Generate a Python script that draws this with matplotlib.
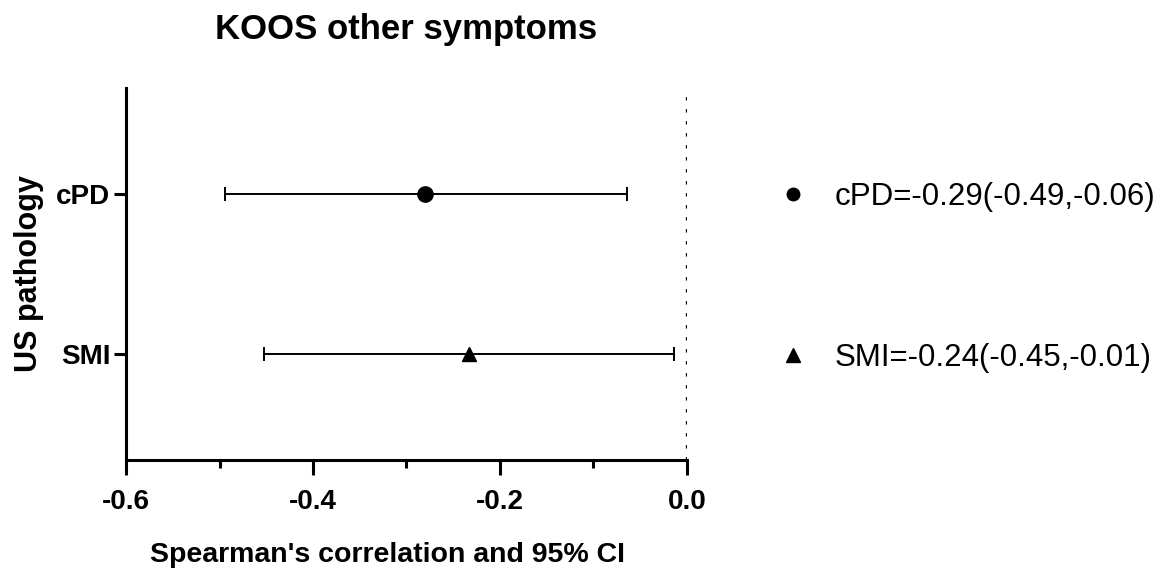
import matplotlib.pyplot as plt
from matplotlib.ticker import MultipleLocator

plt.rcParams['font.family'] = ['Liberation Sans', 'DejaVu Sans']

categories = ["cPD", "SMI"]
rho = [-0.28, -0.233]
ciLow = [-0.494, -0.453]
ciHigh = [-0.064, -0.014]
markers = ["o", "^"]
labels = ["cPD=-0.29(-0.49,-0.06)", "SMI=-0.24(-0.45,-0.01)"]

fig = plt.figure(figsize=(11.68, 5.76), dpi=100)
ax = fig.add_axes([0.108, 0.2014, 0.48, 0.6458])

ypos = [2, 1]
handles = []
for i in range(len(categories)):
    ax.errorbar(rho[i], ypos[i],
                xerr=[[rho[i] - ciLow[i]], [ciHigh[i] - rho[i]]],
                fmt="none", ecolor="black",
                elinewidth=1.4, capsize=5, capthick=1.4)
    ax.plot(rho[i], ypos[i], marker=markers[i], linestyle="none", color="black",
            markersize=11 if markers[i] == "o" else 10, zorder=5)
    h, = ax.plot([], [], marker=markers[i], linestyle="none", color="black",
                 markersize=9 if markers[i] == "o" else 9.5, label=labels[i])
    handles.append(h)

# dotted zero line
ax.axvline(0, color="black", linestyle=(0, (1, 2.6)), linewidth=2.4)

ax.set_xlim(-0.6, 0.0)
ax.set_ylim(0.34, 2.66)
ax.xaxis.set_minor_locator(MultipleLocator(0.1))
ax.set_xticks([-0.6, -0.4, -0.2, 0.0])
ax.set_xticklabels(["-0.6", "-0.4", "-0.2", "0.0"])
ax.set_yticks(ypos)
ax.set_yticklabels(categories)

for s in ["top", "right"]:
    ax.spines[s].set_visible(False)
for s in ["left", "bottom"]:
    ax.spines[s].set_linewidth(2.2)

ax.tick_params(axis="x", which="major", length=11, width=2.2, labelsize=20, pad=10)
ax.tick_params(axis="x", which="minor", length=6, width=2.2)
ax.tick_params(axis="y", which="major", length=8.5, width=2.2, labelsize=20, pad=3)
for t in ax.get_xticklabels() + ax.get_yticklabels():
    t.set_fontweight("bold")

ax.set_title("KOOS other symptoms", fontsize=25, fontweight="bold", pad=35)
ax.set_xlabel("Spearman's correlation and 95% CI", fontsize=20.5, fontweight="bold", labelpad=19)
ax.xaxis.label.set_x(0.467)
ax.set_ylabel("US pathology", fontsize=22, fontweight="bold", labelpad=9)

leg = ax.legend(handles=handles, loc="upper left", bbox_to_anchor=(1.134, 0.782), frameon=False,
                fontsize=22.5, labelspacing=4.19, handletextpad=0.74,
                handlelength=1.2, borderaxespad=0)

fig.savefig("out.png", dpi=100)
